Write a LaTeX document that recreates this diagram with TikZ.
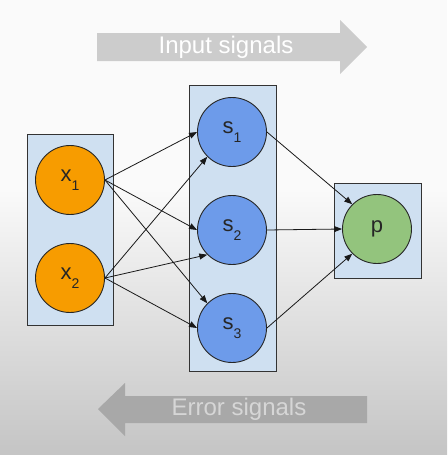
\documentclass[tikz,border=0pt]{standalone}
\usepackage{fontspec}
\setmainfont{Liberation Sans}
\usepackage{tikz}
\usetikzlibrary{arrows.meta}

\definecolor{boxblue}{HTML}{CFE0F1}
\definecolor{inorange}{HTML}{F79C00}
\definecolor{hidblue}{HTML}{6D9BEA}
\definecolor{outgreen}{HTML}{93C47D}

\newcommand{\unitlab}[2]{#1\raisebox{-0.75ex}{\fontsize{14}{14}\selectfont #2}}

\tikzset{
  layerbox/.style={draw=black!80,line width=0.9pt,fill=boxblue,inner sep=0pt},
  unit/.style={circle,draw=black!85,line width=0.9pt,minimum size=69pt,inner sep=0pt,
    font=\fontsize{22}{22}\selectfont,text=black!85},
  link/.style={-{Triangle[length=8pt,width=6pt]},line width=0.8pt,black!90}
}

\begin{document}
\begin{tikzpicture}[x=1pt,y=-1pt]
      \useasboundingbox (0,0) rectangle (447,455);
      \fill[black!2] (0,0) rectangle (447,455);
      \shade[top color=black!2,bottom color=black!23] (0,190) rectangle (447,455);

      % signal arrows
      \fill[black!20] (97,33) -- (340,33) -- (340,20) -- (367,47) -- (340,74) -- (340,61) -- (97,61) -- cycle;
      \node[text=white,font=\fontsize{24}{24}\selectfont] (insig) at (226,47) {Input signals};
      \fill[black!34] (367,396) -- (125,396) -- (125,383) -- (98,409) -- (125,436) -- (125,423) -- (367,423) -- cycle;
      \node[text=black!16,font=\fontsize{24}{24}\selectfont] (errsig) at (239,409) {Error signals};

      % layers
      \node[layerbox,minimum width=86pt,minimum height=191pt] (inbox) at (70,229.5) {};
      \node[layerbox,minimum width=87pt,minimum height=286pt] (hidbox) at (232.5,228) {};
      \node[layerbox,minimum width=87pt,minimum height=95pt] (outbox) at (377.5,230.5) {};

      \node[unit,fill=inorange] (x1) at (70,180) {\unitlab{x}{1}};
      \node[unit,fill=inorange] (x2) at (70,278) {\unitlab{x}{2}};
      \node[unit,fill=hidblue] (s1) at (232,132) {\unitlab{s}{1}};
      \node[unit,fill=hidblue] (s2) at (232,230) {\unitlab{s}{2}};
      \node[unit,fill=hidblue] (s3) at (232,328) {\unitlab{s}{3}};
      \node[unit,fill=outgreen] (p) at (377,229) {p};

      \draw[link] (x1.east) -- (s1.west);
      \draw[link] (x1.east) -- (s2.west);
      \draw[link] (x1.east) -- (s3.north west);
      \draw[link] (x2.east) -- (s1.south west);
      \draw[link] (x2.east) -- (s2.south west);
      \draw[link] (x2.east) -- (s3.west);
      \draw[link] (s1.east) -- (p.north west);
      \draw[link] (s2.east) -- (p.west);
      \draw[link] (s3.east) -- (p.south west);
\end{tikzpicture}
\end{document}
